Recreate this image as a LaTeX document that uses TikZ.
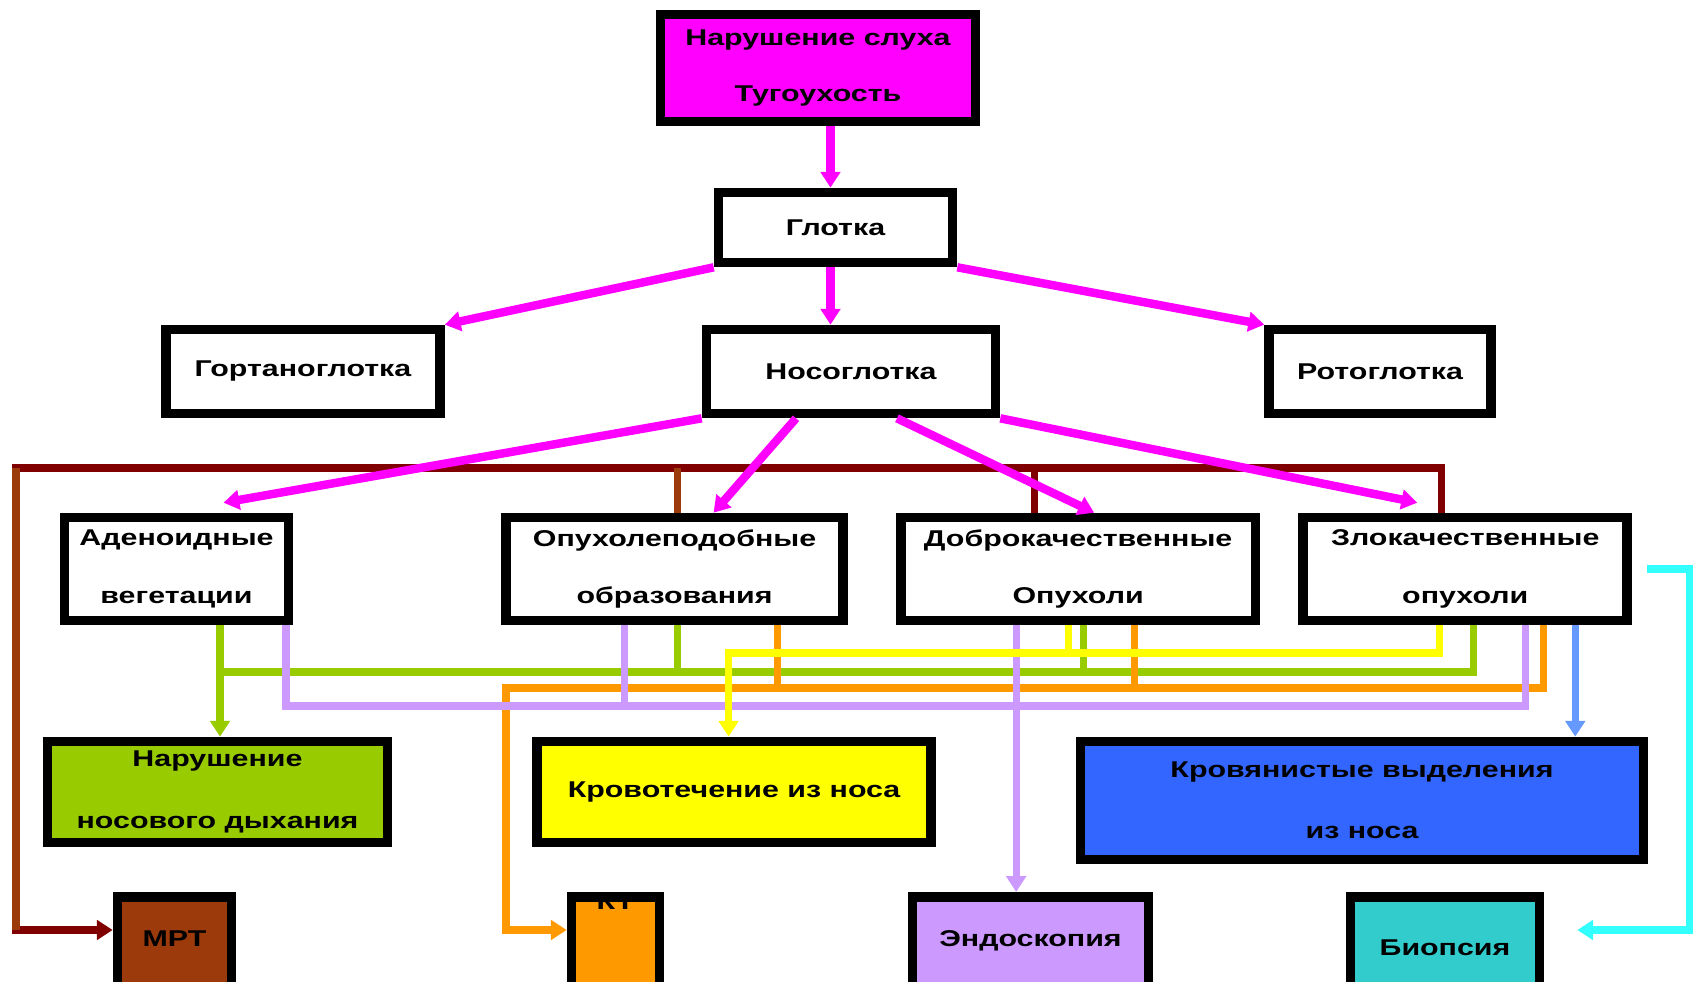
\documentclass[tikz,border=0pt]{standalone}
\usepackage{fontspec}
\usepackage{xcolor}
\usetikzlibrary{arrows.meta, positioning}
\newfontfamily\diagfam{Liberation Sans}[FakeStretch=1.33]
\newcommand\diagfont{\diagfam\bfseries\fontsize{13}{33}\selectfont}
\newcommand\widefont{\diagfam\bfseries\fontsize{13}{35}\selectfont}
\definecolor{pinkc}{HTML}{FF00FF}
\definecolor{maroonc}{HTML}{800000}
\definecolor{brownc}{HTML}{9C3A0C}
\definecolor{greenc}{HTML}{99CC00}
\definecolor{yellowc}{HTML}{FFFF00}
\definecolor{orangec}{HTML}{FF9900}
\definecolor{lilacc}{HTML}{CC99FF}
\definecolor{bluec}{HTML}{3366FF}
\definecolor{lightbluec}{HTML}{6699FF}
\definecolor{tealc}{HTML}{33CCCC}
\definecolor{cyanc}{HTML}{33FFFF}

\begin{document}
\begin{tikzpicture}[x=0.02cm, y=-0.02cm,
    >={Triangle[length=9pt,width=11pt]},
    box/.style={rectangle, draw=black, line width=5.5pt, fill=white, align=center, font=\diagfont, inner sep=2pt},
    lowbox/.style={box, anchor=north, minimum height=3.07cm, text height=0pt, text depth=#1},
    link/.style={line width=4pt},
    pinkline/.style={line width=4.8pt, draw=pinkc, ->},
    busline/.style={link, draw=maroonc}]
        \path[use as bounding box, fill=white] (0,0) rectangle (1698,982);

        \node (slukh) [box, fill=pinkc, minimum width=6.30cm, minimum height=2.14cm, font=\diagfam\bfseries\fontsize{13}{32}\selectfont] at (818,68) {Нарушение слуха\\Тугоухость};
        \node (glotka) [box, minimum width=4.68cm, minimum height=1.40cm] at (835.5,227.5) {Глотка};
        \node (nosog) [box, minimum width=5.78cm, minimum height=1.68cm] at (851,371.5) {Носоглотка};
        \node (gortan) [box, minimum width=5.48cm, minimum height=1.68cm, left=5.14cm of nosog] {Гортаноглотка};
        \node (rotog) [box, minimum width=4.44cm, minimum height=1.68cm, right=5.28cm of nosog] {Ротоглотка};

        \node (adeno) [box, minimum width=4.48cm, minimum height=2.06cm] at (176.5,569) {Аденоидные\\вегетации};
        \node (opuh) [box, minimum width=6.74cm, minimum height=2.06cm, right=4.16cm of adeno] {Опухолеподобные\\образования};
        \node (dobro) [box, minimum width=7.10cm, minimum height=2.06cm, right=0.96cm of opuh] {Доброкачественные\\Опухоли};
        \node (zlo) [box, minimum width=6.48cm, minimum height=2.06cm, right=0.76cm of dobro] {Злокачественные\\опухоли};

        \node (nosdyh) [box, fill=greenc, minimum width=6.80cm, minimum height=2.02cm, font=\widefont] at (217.5,792) {Нарушение\\носового дыхания};
        \node (krovot) [box, fill=yellowc, minimum width=7.88cm, minimum height=2.02cm, right=2.80cm of nosdyh] {Кровотечение из носа};
        \node (krovyan) [box, fill=bluec, minimum width=11.26cm, minimum height=2.36cm, font=\widefont] at (1362,800.5) {Кровянистые выделения\\из носа};

        \node (mrt) [lowbox=1.08cm, fill=brownc, minimum width=2.28cm] at (174.5,892) {МРТ};
        \node (kt) [lowbox=2.56cm, fill=orangec, minimum width=1.76cm] at (615.5,892) {КТ};
        \node (endo) [lowbox=1.08cm, fill=lilacc, minimum width=4.72cm] at (1030.5,892) {Эндоскопия};
        \node (bio) [lowbox=0.72cm, fill=tealc, minimum width=3.78cm] at (1445,892) {Биопсия};

        % bus levels
        \coordinate (busL) at (16,468);
        \coordinate (ybus) at (0,653);
        \coordinate (gbus) at (0,672);
        \coordinate (obus) at (506,688);
        \coordinate (lbus) at (0,706);
        \coordinate (cyR) at (1689,0);

        \coordinate (zm) at ([shift={(-23.5,0)}]zlo.north);
        \coordinate (dm) at ([shift={(-44,0)}]dobro.north);
        \coordinate (om) at ([shift={(3,0)}]opuh.north);
        \coordinate (mrtin) at ([shift={(0,38)}]mrt.north west);
        \draw [busline, ->] (zm) |- (busL) |- (mrtin);
        \draw [busline, draw=brownc] (busL) -- (busL |- mrtin);
        \draw [busline] (dm) -- (dm |- busL);
        \draw [busline, draw=brownc] (om) -- (om |- busL);

        \coordinate (gt) at ([shift={(-5,0)}]glotka.north);
        \coordinate (gb) at ([shift={(-5,0)}]glotka.south);
        \draw [pinkline] (gt |- slukh.south) -- (gt);
        \draw [pinkline] (glotka.south west) -- (gortan.north east);
        \draw [pinkline] (gb) -- (gb |- nosog.north);
        \draw [pinkline] (glotka.south east) -- (rotog.north west);
        \draw [pinkline] (nosog.south west) -- ([shift={(47,-10)}]adeno.north);
        \draw [pinkline] ([shift={(-55,0)}]nosog.south) -- ([shift={(39,0)}]opuh.north);
        \draw [pinkline] ([shift={(46,0)}]nosog.south) -- ([shift={(16,0)}]dobro.north);
        \draw [pinkline] (nosog.south east) -- ([shift={(-48,-10)}]zlo.north);

        \coordinate (ga) at ([shift={(43.5,0)}]adeno.south);
        \coordinate (go) at ([shift={(3,0)}]opuh.south);
        \coordinate (gd) at ([shift={(5,0)}]dobro.south);
        \coordinate (gz) at ([shift={(8.5,0)}]zlo.south);
        \draw [link, greenc, ->] (ga) -- (ga |- nosdyh.north);
        \draw [link, greenc] (gz) |- (ga |- gbus);
        \draw [link, greenc] (go) -- (go |- gbus);
        \draw [link, greenc] (gd) -- (gd |- gbus);

        \coordinate (oo) at ([shift={(103,0)}]opuh.south);
        \coordinate (od) at ([shift={(56,0)}]dobro.south);
        \coordinate (oz) at ([shift={(78,0)}]zlo.south);
        \coordinate (ktin) at ([shift={(0,38)}]kt.north west);
        \draw [link, orangec, ->] (oz) |- (obus) |- (ktin);
        \draw [link, orangec] (oo) -- (oo |- obus);
        \draw [link, orangec] (od) -- (od |- obus);

        \coordinate (la) at ([shift={(109.5,0)}]adeno.south);
        \coordinate (lo) at ([shift={(-50,0)}]opuh.south);
        \coordinate (ld) at ([shift={(-62,0)}]dobro.south);
        \coordinate (lz) at ([shift={(60,0)}]zlo.south);
        \draw [link, lilacc] (la) |- (lz |- lbus) -- (lz);
        \draw [link, lilacc] (lo) -- (lo |- lbus);
        \draw [link, lilacc, ->] (ld) -- (ld |- endo.north);

        \coordinate (yd) at ([shift={(-10,0)}]dobro.south);
        \coordinate (yz) at ([shift={(-26,0)}]zlo.south);
        \coordinate (yk) at ([shift={(-5.5,0)}]krovot.north);
        \draw [link, yellowc, ->] (yz) |- (yk |- ybus) -- (yk);
        \draw [link, yellowc] (yd) -- (yd |- ybus);

        \coordinate (bz) at ([shift={(110,0)}]zlo.south);
        \draw [link, lightbluec, ->] (bz) -- (bz |- krovyan.north);

        \coordinate (cz) at ([shift={(15,0)}]zlo.east);
        \coordinate (bioin) at ([shift={(33,38)}]bio.north east);
        \draw [link, cyanc, ->] (cz) -- (cz -| cyR) |- (bioin);
    \end{tikzpicture}
\end{document}
